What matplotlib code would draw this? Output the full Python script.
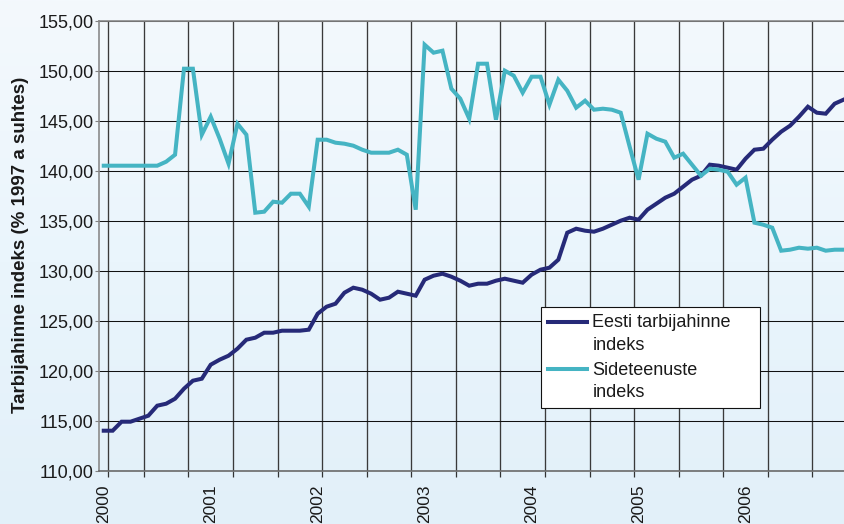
import numpy as np
import matplotlib
matplotlib.use("Agg")
import matplotlib.pyplot as plt
from matplotlib.legend_handler import HandlerLine2D
from matplotlib.colors import LinearSegmentedColormap

plt.rcParams['font.family'] = ['Liberation Sans', 'DejaVu Sans']

# Monthly values, January 2000 onwards
years = ["2000", "2001", "2002", "2003", "2004", "2005", "2006"]

cpi = [
    114.0, 114.0, 114.9, 114.9, 115.2, 115.5, 116.5, 116.7, 117.2, 118.2, 119.0, 119.2,
    120.6, 121.1, 121.5, 122.2, 123.1, 123.3, 123.8, 123.8, 124.0, 124.0, 124.0, 124.1,
    125.7, 126.4, 126.7, 127.8, 128.3, 128.1, 127.7, 127.1, 127.3, 127.9, 127.7, 127.5,
    129.1, 129.5, 129.7, 129.4, 129.0, 128.5, 128.7, 128.7, 129.0, 129.2, 129.0, 128.8,
    129.6, 130.1, 130.3, 131.1, 133.8, 134.2, 134.0, 133.9, 134.2, 134.6, 135.0, 135.3,
    135.1, 136.1, 136.7, 137.3, 137.7, 138.4, 139.1, 139.5, 140.6, 140.5, 140.3, 140.1,
    141.2, 142.1, 142.2, 143.1, 143.9, 144.5, 145.4, 146.4, 145.8, 145.7, 146.7, 147.1,
]

telecom = [
    140.5, 140.5, 140.5, 140.5, 140.5, 140.5, 140.5, 140.9, 141.6, 150.2, 150.2, 143.6,
    145.4, 143.2, 140.7, 144.7, 143.6, 135.8, 135.9, 136.9, 136.8, 137.7, 137.7, 136.4,
    143.1, 143.1, 142.8, 142.7, 142.5, 142.1, 141.8, 141.8, 141.8, 142.1, 141.6, 136.1,
    152.6, 151.8, 152.0, 148.2, 147.2, 145.2, 150.7, 150.7, 145.1, 150.0, 149.5, 147.8,
    149.4, 149.4, 146.6, 149.1, 148.0, 146.3, 147.0, 146.1, 146.2, 146.1, 145.8, 142.4,
    139.1, 143.7, 143.2, 142.9, 141.3, 141.7, 140.6, 139.5, 140.2, 140.1, 139.9, 138.6,
    139.3, 134.8, 134.6, 134.3, 132.0, 132.1, 132.3, 132.2, 132.3, 132.0, 132.1, 132.1,
]

series_names = ["Eesti tarbijahinne\nindeks", "Sideteenuste\nindeks"]
y_title = "Tarbijahinne indeks (% 1997 a suhtes)"
y_ticks = [110, 115, 120, 125, 130, 135, 140, 145, 150, 155]

NAVY = "#262a78"
TEAL = "#45b4c3"

fig = plt.figure(figsize=(8.44, 5.24), dpi=100)

# soft sky-blue backdrop
bg = fig.add_axes([0, 0, 1, 1], zorder=-10)
grad = np.linspace(0, 1, 256).reshape(-1, 1)
cmap = LinearSegmentedColormap.from_list("sky", ["#f4f9fd", "#eaf5fc", "#e2f0f9"])
bg.imshow(grad, aspect="auto", cmap=cmap, extent=[0, 1, 0, 1], origin="upper")
bg.set_axis_off()

ax = fig.add_axes([99.3 / 844, 53.3 / 524, (844 - 99.3) / 844, 450 / 524])
ax.set_facecolor("none")

x = np.arange(len(cpi))
ax.plot(x, cpi, color=NAVY, lw=2.9, solid_joinstyle="miter", label=series_names[0], zorder=3)
ax.plot(x, telecom, color=TEAL, lw=2.9, solid_joinstyle="miter", label=series_names[1], zorder=3)

ax.set_xlim(-0.5, 83.05)
ax.set_ylim(y_ticks[0], y_ticks[-1])

# y axis
ax.set_yticks(y_ticks)
ax.set_yticklabels([f"{v:.2f}".replace(".", ",") for v in y_ticks])
ax.tick_params(axis="y", length=3, width=0.8, color="#808080", pad=1.2,
               labelsize=13, labelcolor="#1a1a1a")

# x axis: year labels at January, grid every five months
label_pos = [12 * i for i in range(len(years))]
ax.set_xticks(label_pos)
ax.set_xticklabels(years, rotation=90)
ax.tick_params(axis="x", which="major", length=0, pad=9.6, labelsize=12.5, labelcolor="#1a1a1a")
grid_pos = [0.5] + [4.5 + 5 * k for k in range(16)]
ax.set_xticks(grid_pos, minor=True)
ax.tick_params(axis="x", which="minor", length=4, width=0.9, color="#333333")

ax.grid(axis="y", which="major", color="#111111", lw=0.75)
ax.grid(axis="x", which="minor", color="#3a3a3a", lw=0.95)
ax.grid(axis="x", which="major", visible=False)
ax.set_axisbelow(True)

for side in ("left", "bottom", "top"):
    ax.spines[side].set_color("#8a8a8a")
    ax.spines[side].set_linewidth(1.2)
ax.spines["bottom"].set_color("#6a6a6a")
ax.spines["right"].set_visible(False)

fig.text(21 / 844, 1 - 245 / 524, y_title, rotation=90, ha="center", va="center",
         fontsize=13.5, fontweight="bold", color="#1a1a1a")


class FirstLineHandler(HandlerLine2D):
    """Place the legend key level with the first line of a two-line label."""

    def create_artists(self, legend, orig_handle, xdescent, ydescent, width, height,
                       fontsize, trans):
        artists = super().create_artists(legend, orig_handle, xdescent, ydescent,
                                         width, height, fontsize, trans)
        for a in artists:
            a.set_ydata(np.asarray(a.get_ydata()) + 0.68 * fontsize)
        return artists


leg = ax.legend(loc="upper left", bbox_to_anchor=(0.593, 0.0, 0.294, 0.364),
                mode="expand", borderaxespad=0, fontsize=13, frameon=True,
                fancybox=False, framealpha=1, edgecolor="#111111",
                handlelength=2.15, handletextpad=0.3, borderpad=0.4, labelspacing=0.45,
                handler_map={plt.Line2D: FirstLineHandler()})
leg.get_frame().set_linewidth(0.8)
leg.get_frame().set_facecolor("white")
for t in leg.get_texts():
    t.set_color("#1a1a1a")
    t.set_linespacing(1.42)

fig.savefig("out.png", dpi=100)
